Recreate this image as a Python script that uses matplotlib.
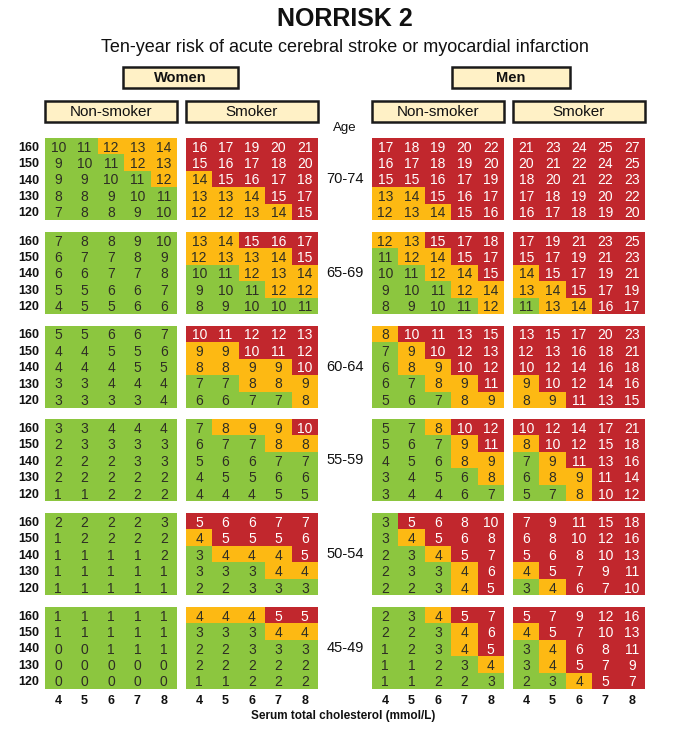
import numpy as np
import matplotlib
matplotlib.use('Agg')
import matplotlib.pyplot as plt
from matplotlib.colors import ListedColormap
from matplotlib.patches import Rectangle

# ---------------- data ----------------
ages = ['70-74', '65-69', '60-64', '55-59', '50-54', '45-49']
cholesterol = [4, 5, 6, 7, 8]
systolic_bp = [160, 150, 140, 130, 120]
# colour thresholds per age group (risk >= yellow_from -> yellow, >= red_from -> red)
yellow_from = [12, 12, 8, 8, 4, 4]
red_from = [15, 15, 10, 10, 5, 5]

women_nonsmoker = [
    [[10, 11, 12, 13, 14], [9, 10, 11, 12, 13], [9, 9, 10, 11, 12], [8, 8, 9, 10, 11], [7, 8, 8, 9, 10]],
    [[7, 8, 8, 9, 10], [6, 7, 7, 8, 9], [6, 6, 7, 7, 8], [5, 5, 6, 6, 7], [4, 5, 5, 6, 6]],
    [[5, 5, 6, 6, 7], [4, 4, 5, 5, 6], [4, 4, 4, 5, 5], [3, 3, 4, 4, 4], [3, 3, 3, 3, 4]],
    [[3, 3, 4, 4, 4], [2, 3, 3, 3, 3], [2, 2, 2, 3, 3], [2, 2, 2, 2, 2], [1, 1, 2, 2, 2]],
    [[2, 2, 2, 2, 3], [1, 2, 2, 2, 2], [1, 1, 1, 1, 2], [1, 1, 1, 1, 1], [1, 1, 1, 1, 1]],
    [[1, 1, 1, 1, 1], [1, 1, 1, 1, 1], [0, 0, 1, 1, 1], [0, 0, 0, 0, 0], [0, 0, 0, 0, 0]],
]
women_smoker = [
    [[16, 17, 19, 20, 21], [15, 16, 17, 18, 20], [14, 15, 16, 17, 18], [13, 13, 14, 15, 17], [12, 12, 13, 14, 15]],
    [[13, 14, 15, 16, 17], [12, 13, 13, 14, 15], [10, 11, 12, 13, 14], [9, 10, 11, 12, 12], [8, 9, 10, 10, 11]],
    [[10, 11, 12, 12, 13], [9, 9, 10, 11, 12], [8, 8, 9, 9, 10], [7, 7, 8, 8, 9], [6, 6, 7, 7, 8]],
    [[7, 8, 9, 9, 10], [6, 7, 7, 8, 8], [5, 6, 6, 7, 7], [4, 5, 5, 6, 6], [4, 4, 4, 5, 5]],
    [[5, 6, 6, 7, 7], [4, 5, 5, 5, 6], [3, 4, 4, 4, 5], [3, 3, 3, 4, 4], [2, 2, 3, 3, 3]],
    [[4, 4, 4, 5, 5], [3, 3, 3, 4, 4], [2, 2, 3, 3, 3], [2, 2, 2, 2, 2], [1, 1, 2, 2, 2]],
]
men_nonsmoker = [
    [[17, 18, 19, 20, 22], [16, 17, 18, 19, 20], [15, 15, 16, 17, 19], [13, 14, 15, 16, 17], [12, 13, 14, 15, 16]],
    [[12, 13, 15, 17, 18], [11, 12, 14, 15, 17], [10, 11, 12, 14, 15], [9, 10, 11, 12, 14], [8, 9, 10, 11, 12]],
    [[8, 10, 11, 13, 15], [7, 9, 10, 12, 13], [6, 8, 9, 10, 12], [6, 7, 8, 9, 11], [5, 6, 7, 8, 9]],
    [[5, 7, 8, 10, 12], [5, 6, 7, 9, 11], [4, 5, 6, 8, 9], [3, 4, 5, 6, 8], [3, 4, 4, 6, 7]],
    [[3, 5, 6, 8, 10], [3, 4, 5, 6, 8], [2, 3, 4, 5, 7], [2, 3, 3, 4, 6], [2, 2, 3, 4, 5]],
    [[2, 3, 4, 5, 7], [2, 2, 3, 4, 6], [1, 2, 3, 4, 5], [1, 1, 2, 3, 4], [1, 1, 2, 2, 3]],
]
men_smoker = [
    [[21, 23, 24, 25, 27], [20, 21, 22, 24, 25], [18, 20, 21, 22, 23], [17, 18, 19, 20, 22], [16, 17, 18, 19, 20]],
    [[17, 19, 21, 23, 25], [15, 17, 19, 21, 23], [14, 15, 17, 19, 21], [13, 14, 15, 17, 19], [11, 13, 14, 16, 17]],
    [[13, 15, 17, 20, 23], [12, 13, 16, 18, 21], [10, 12, 14, 16, 18], [9, 10, 12, 14, 16], [8, 9, 11, 13, 15]],
    [[10, 12, 14, 17, 21], [8, 10, 12, 15, 18], [7, 9, 11, 13, 16], [6, 8, 9, 11, 14], [5, 7, 8, 10, 12]],
    [[7, 9, 11, 15, 18], [6, 8, 10, 12, 16], [5, 6, 8, 10, 13], [4, 5, 7, 9, 11], [3, 4, 6, 7, 10]],
    [[5, 7, 9, 12, 16], [4, 5, 7, 10, 13], [3, 4, 6, 8, 11], [3, 4, 5, 7, 9], [2, 3, 4, 5, 7]],
]
panel_titles = ['Non-smoker', 'Smoker', 'Non-smoker', 'Smoker']
sex_titles = ['Women', 'Men']

# ---------------- style ----------------
GREEN = '#8cc63f'
YELLOW = '#fdb913'
RED = '#c1272d'
DARK = '#2e2e24'
BOXFILL = '#fff1c6'
SANS = ['Liberation Sans', 'DejaVu Sans']
NARROW = ['Liberation Sans Narrow', 'Liberation Sans', 'DejaVu Sans']

W, H = 698, 734
fig = plt.figure(figsize=(W / 100, H / 100), dpi=100)
fig.patch.set_facecolor('white')


def fx(px):
    return px / W


def fy(py):
    return 1 - py / H


cmap = ListedColormap([GREEN, YELLOW, RED])
panels = [women_nonsmoker, women_smoker, men_nonsmoker, men_smoker]
panel_left = [45, 186, 372, 513]
panel_w = 132
block_top = 138
block_step = 93.8
block_h = 82
center_x = 345

for a_i, age in enumerate(ages):
    top = block_top + a_i * block_step
    for p_i, data in enumerate(panels):
        vals = np.array(data[a_i])
        level = (vals >= yellow_from[a_i]).astype(int) + (vals >= red_from[a_i]).astype(int)
        ax = fig.add_axes([fx(panel_left[p_i]), fy(top + block_h), panel_w / W, block_h / H])
        ax.imshow(level, cmap=cmap, vmin=-0.5, vmax=2.5, aspect='auto', interpolation='nearest')
        for r in range(vals.shape[0]):
            for c in range(vals.shape[1]):
                ax.text(c, r, str(vals[r, c]), ha='center', va='center_baseline',
                        color='white' if level[r, c] == 2 else DARK,
                        fontsize=10, family=SANS)
        for s in ax.spines.values():
            s.set_visible(False)
        ax.set_xticks([])
        ax.set_yticks([])
        if p_i == 0:
            ax.set_yticks(range(len(systolic_bp)))
            ax.set_yticklabels([str(v) for v in systolic_bp], fontweight='bold',
                               fontsize=9, family=NARROW, color='#111111')
            ax.tick_params(axis='y', length=0, pad=4)
        if a_i == len(ages) - 1:
            ax.set_xticks(range(len(cholesterol)))
            ax.set_xticklabels([str(v) for v in cholesterol], fontweight='bold',
                               fontsize=9, family=NARROW, color='#111111')
            ax.tick_params(axis='x', length=0, pad=4)
    fig.text(fx(center_x), fy(top + block_h / 2), age, ha='center', va='center',
             fontsize=10.5, family=SANS, color='#111111')

# ---------------- headers ----------------
fig.text(fx(center_x), fy(19), 'NORRISK 2', ha='center', va='center',
         fontsize=18, fontweight='bold', family=NARROW, color='#111111')
fig.text(fx(center_x), fy(47), 'Ten-year risk of acute cerebral stroke or myocardial infarction',
         ha='center', va='center', fontsize=13, family=SANS, color='#111111')


def header_box(x0, x1, y0, y1, label, bold, size):
    rect = Rectangle((fx(x0), fy(y1)), (x1 - x0) / W, (y1 - y0) / H,
                     transform=fig.transFigure, facecolor=BOXFILL,
                     edgecolor='#1a1a1a', linewidth=1.8)
    fig.add_artist(rect)
    fig.text(fx((x0 + x1) / 2), fy((y0 + y1) / 2), label, ha='center', va='center',
             fontsize=size, fontweight='bold' if bold else 'normal',
             family=NARROW, color='#111111')


header_box(123, 238, 67, 88, sex_titles[0], True, 10.5)
header_box(452, 570, 67, 88, sex_titles[1], True, 10.5)
for p_i, t in enumerate(panel_titles):
    header_box(panel_left[p_i], panel_left[p_i] + panel_w, 101, 122, t, False, 11)

fig.text(fx(center_x), fy(128), 'Age', ha='center', va='center', fontsize=9.5,
         family=NARROW, color='#111111')
fig.text(fx(343), fy(716), 'Serum total cholesterol (mmol/L)', ha='center', va='center',
         fontsize=8.5, fontweight='bold', family=SANS, color='#111111')

fig.savefig('out.png', dpi=100, facecolor='white')
